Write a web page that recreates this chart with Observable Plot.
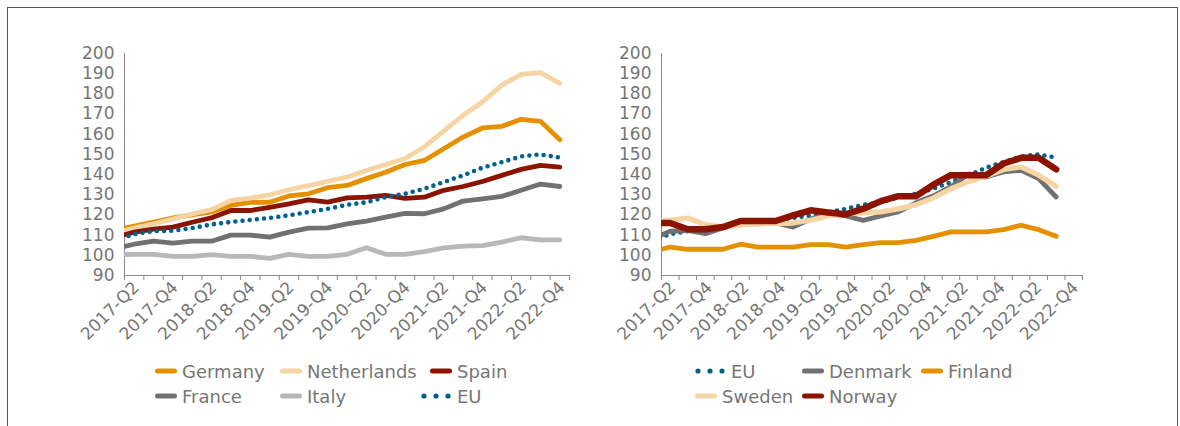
<!DOCTYPE html>
<html><head><meta charset="utf-8">
<script src="https://cdn.jsdelivr.net/npm/d3@7"></script>
<script src="https://cdn.jsdelivr.net/npm/@observablehq/plot@0.6"></script>
<style>
body{margin:0;background:#fff;}
#wrap{position:relative;width:1180px;height:426px;overflow:hidden;font-family:"DejaVu Sans",sans-serif;background:#fff;}
#frame{position:absolute;left:7px;top:7px;width:1171px;height:440px;border:1px solid #5a5a5a;box-sizing:border-box;}
.chart{position:absolute;top:0;}
.leg{position:absolute;height:24px;display:flex;align-items:center;font-size:18px;color:#767676;white-space:nowrap;}
</style></head><body>
<div id="wrap"><div id="frame"></div></div>
<script>
// ---- data ----
const quarters = ["2017-Q1","2017-Q2","2017-Q3","2017-Q4","2018-Q1","2018-Q2","2018-Q3","2018-Q4",
  "2019-Q1","2019-Q2","2019-Q3","2019-Q4","2020-Q1","2020-Q2","2020-Q3","2020-Q4",
  "2021-Q1","2021-Q2","2021-Q3","2021-Q4","2022-Q1","2022-Q2","2022-Q3","2022-Q4","2023-Q1"];
const tickLabels = ["2017-Q2","2017-Q4","2018-Q2","2018-Q4","2019-Q2","2019-Q4","2020-Q2","2020-Q4","2021-Q2","2021-Q4","2022-Q2","2022-Q4"];
const labelBands = quarters.slice(1, 24);  // 2017-Q2 .. 2022-Q4 (axis label categories)
const leftBands = quarters.slice(1, 24);   // 2017-Q2 .. 2022-Q4
const rightBands = quarters.slice(1, 25);  // 2017-Q2 .. 2023-Q1
const yTicks = [90,100,110,120,130,140,150,160,170,180,190,200];

const germany     = [112.5,114.5,116.5,118.5,120,121.5,124.7,126.2,126.3,129.4,130.5,133.5,134.6,138,141.2,145,147,152.8,158.6,163.1,163.9,167.4,166.4,157.3];
const netherlands = [111.1,113.5,115.6,118,120.5,122.6,127.2,128.3,130,132.5,134.5,136.7,138.7,142,145,148,153.8,161.5,169.4,176,184.3,189.7,190.5,185.2];
const spain       = [108.9,111.5,113,114,116.4,118.6,122.2,122.2,123.8,125.5,127.5,126.4,128.5,128.8,129.7,128.2,128.8,132.2,134.1,136.6,139.6,142.6,144.6,143.7];
const france      = [103.3,105.5,107,106,107,107,110,110,109,111.5,113.5,113.6,115.6,116.9,118.9,120.8,120.6,123,126.9,128,129.2,132.2,135.3,134.1];
const italy       = [100.3,100.5,100.5,99.5,99.5,100.3,99.5,99.5,98.5,100.5,99.5,99.5,100.5,103.8,100.5,100.5,101.8,103.7,104.6,104.8,106.5,108.7,107.7,107.7];
const eu          = [107.5,110.5,112,112.2,113.5,115.3,116.5,117.5,118.5,119.8,121.4,123,125,126.3,128.8,130.5,133,136.3,139.6,143.4,146.2,149,150,148.4];
const denmark     = [108.3,112,112.3,110.7,113.6,115.6,115.6,116,114,118,120.5,119.5,117.3,119.5,121.5,126,129.5,134,140.3,138.8,141.3,142.1,138,128.9];
const finland     = [101.9,104.1,103,103,103,105.5,104.1,104.1,104.1,105.3,105.3,104.1,105.3,106.3,106.3,107.4,109.4,111.6,111.6,111.6,112.7,114.9,112.7,109.4];
const sweden      = [116.5,117.4,118.5,115.2,114,114.9,115.7,115.7,116,117.4,119.5,120.5,121,121.5,123,125,128.5,133,136.5,139.2,142.5,143.8,139.7,134.2];
const norway      = [116,116,112.9,112.9,114,117,117,117,119.8,122.3,121.2,120.3,123.1,126.8,129.3,129.3,135,139.7,139.7,139.7,145.5,148.3,148.3,142.6];

// ---- styles ----
const C = {orange:"#E59000", peach:"#F7D4A4", red:"#8B1300", dgray:"#717171", lgray:"#B8B8B8", blue:"#00628C"};
const axisColor = "#8a8a8a", textColor = "#767676";
const DOT = "0 7.2";

const leftSeries = [
  {name:"Germany", values:germany, color:C.orange, w:4.8},
  {name:"Netherlands", values:netherlands, color:C.peach, w:4.8},
  {name:"Spain", values:spain, color:C.red, w:4.8},
  {name:"France", values:france, color:C.dgray, w:4.8},
  {name:"Italy", values:italy, color:C.lgray, w:4.8},
  {name:"EU", values:eu, color:C.blue, w:4.6, dash:DOT}
];
const rightSeries = [
  {name:"EU", values:eu, color:C.blue, w:4.6, dash:DOT},
  {name:"Denmark", values:denmark, color:C.dgray, w:4.8},
  {name:"Finland", values:finland, color:C.orange, w:4.8},
  {name:"Sweden", values:sweden, color:C.peach, w:5.2},
  {name:"Norway", values:norway, color:C.red, w:6.5}
];

function chart(seriesList, bands, mLeft, mRight) {
  const first = quarters.indexOf(bands[0]);
  const pos = q => quarters.indexOf(q) - first + 0.5;
  // label categories spread over the whole axis width
  const k = bands.length / labelBands.length;
  const labelPos = q => (labelBands.indexOf(q) + 0.5) * k;
  const marks = [
    Plot.ruleX([0], {stroke: axisColor}),
    Plot.ruleY([90], {stroke: axisColor})
  ];
  for (const s of seriesList) {
    const rows = s.values.map((v, i) => ({q: quarters[i], v}));
    marks.push(Plot.line(rows, {
      x: d => pos(d.q), y: "v", stroke: s.color, strokeWidth: s.w,
      strokeDasharray: s.dash, strokeLinecap: "round", strokeLinejoin: "round", clip: true
    }));
  }
  marks.push(Plot.text(tickLabels, {
    x: d => labelPos(d), text: d => d, frameAnchor: "bottom", rotate: -45, textAnchor: "end",
    dx: 6, dy: 13, fontSize: 17, fill: textColor
  }));
  return Plot.plot({
    width: 590, height: 345,
    marginLeft: mLeft, marginRight: mRight, marginTop: 53, marginBottom: 70,
    style: {fontFamily: "DejaVu Sans", fontSize: "17px", color: axisColor, background: "transparent", overflow: "visible"},
    x: {type: "linear", domain: [0, bands.length], ticks: d3.range(0, bands.length + 1), tickSize: 5, tickFormat: () => "", label: null},
    y: {domain: [90, 200], ticks: yTicks, tickSize: 0, tickPadding: 10, label: null, tickFormat: d => String(d)},
    marks
  });
}

const wrap = document.getElementById("wrap");
const left = chart(leftSeries, leftBands, 124, 21);
left.classList.add("chart"); left.style.left = "0px";
wrap.appendChild(left);
const right = chart(rightSeries, rightBands, 71, 98);
right.classList.add("chart"); right.style.left = "590px";
wrap.appendChild(right);
for (const svg of [left, right]) svg.querySelectorAll("text").forEach(t => t.setAttribute("fill", textColor));

// ---- legends ----
const legendItems = [
  {label:"Germany", color:C.orange, x:155, y:371},
  {label:"Netherlands", color:C.peach, x:280, y:371},
  {label:"Spain", color:C.red, x:430, y:371},
  {label:"France", color:C.dgray, x:155, y:396},
  {label:"Italy", color:C.lgray, x:280, y:396},
  {label:"EU", color:C.blue, x:420, y:396, dots:true},
  {label:"EU", color:C.blue, x:694, y:371, dots:true},
  {label:"Denmark", color:C.dgray, x:802, y:371},
  {label:"Finland", color:C.orange, x:921, y:371},
  {label:"Sweden", color:C.peach, x:695, y:396},
  {label:"Norway", color:C.red, x:802, y:396}
];
for (const it of legendItems) {
  const d = document.createElement("div");
  d.className = "leg";
  d.style.left = it.x + "px";
  d.style.top = (it.y - 12) + "px";
  const sw = it.dots
    ? `<svg width="32" height="10" style="margin-right:5px"><circle cx="4" cy="5" r="2.6" fill="${it.color}"/><circle cx="16" cy="5" r="2.6" fill="${it.color}"/><circle cx="28" cy="5" r="2.6" fill="${it.color}"/></svg>`
    : `<svg width="22" height="10" style="margin-right:5px"><line x1="2.5" y1="5" x2="19.5" y2="5" stroke="${it.color}" stroke-width="5" stroke-linecap="round"/></svg>`;
  d.innerHTML = sw + `<span>${it.label}</span>`;
  wrap.appendChild(d);
}
</script>
</body></html>
